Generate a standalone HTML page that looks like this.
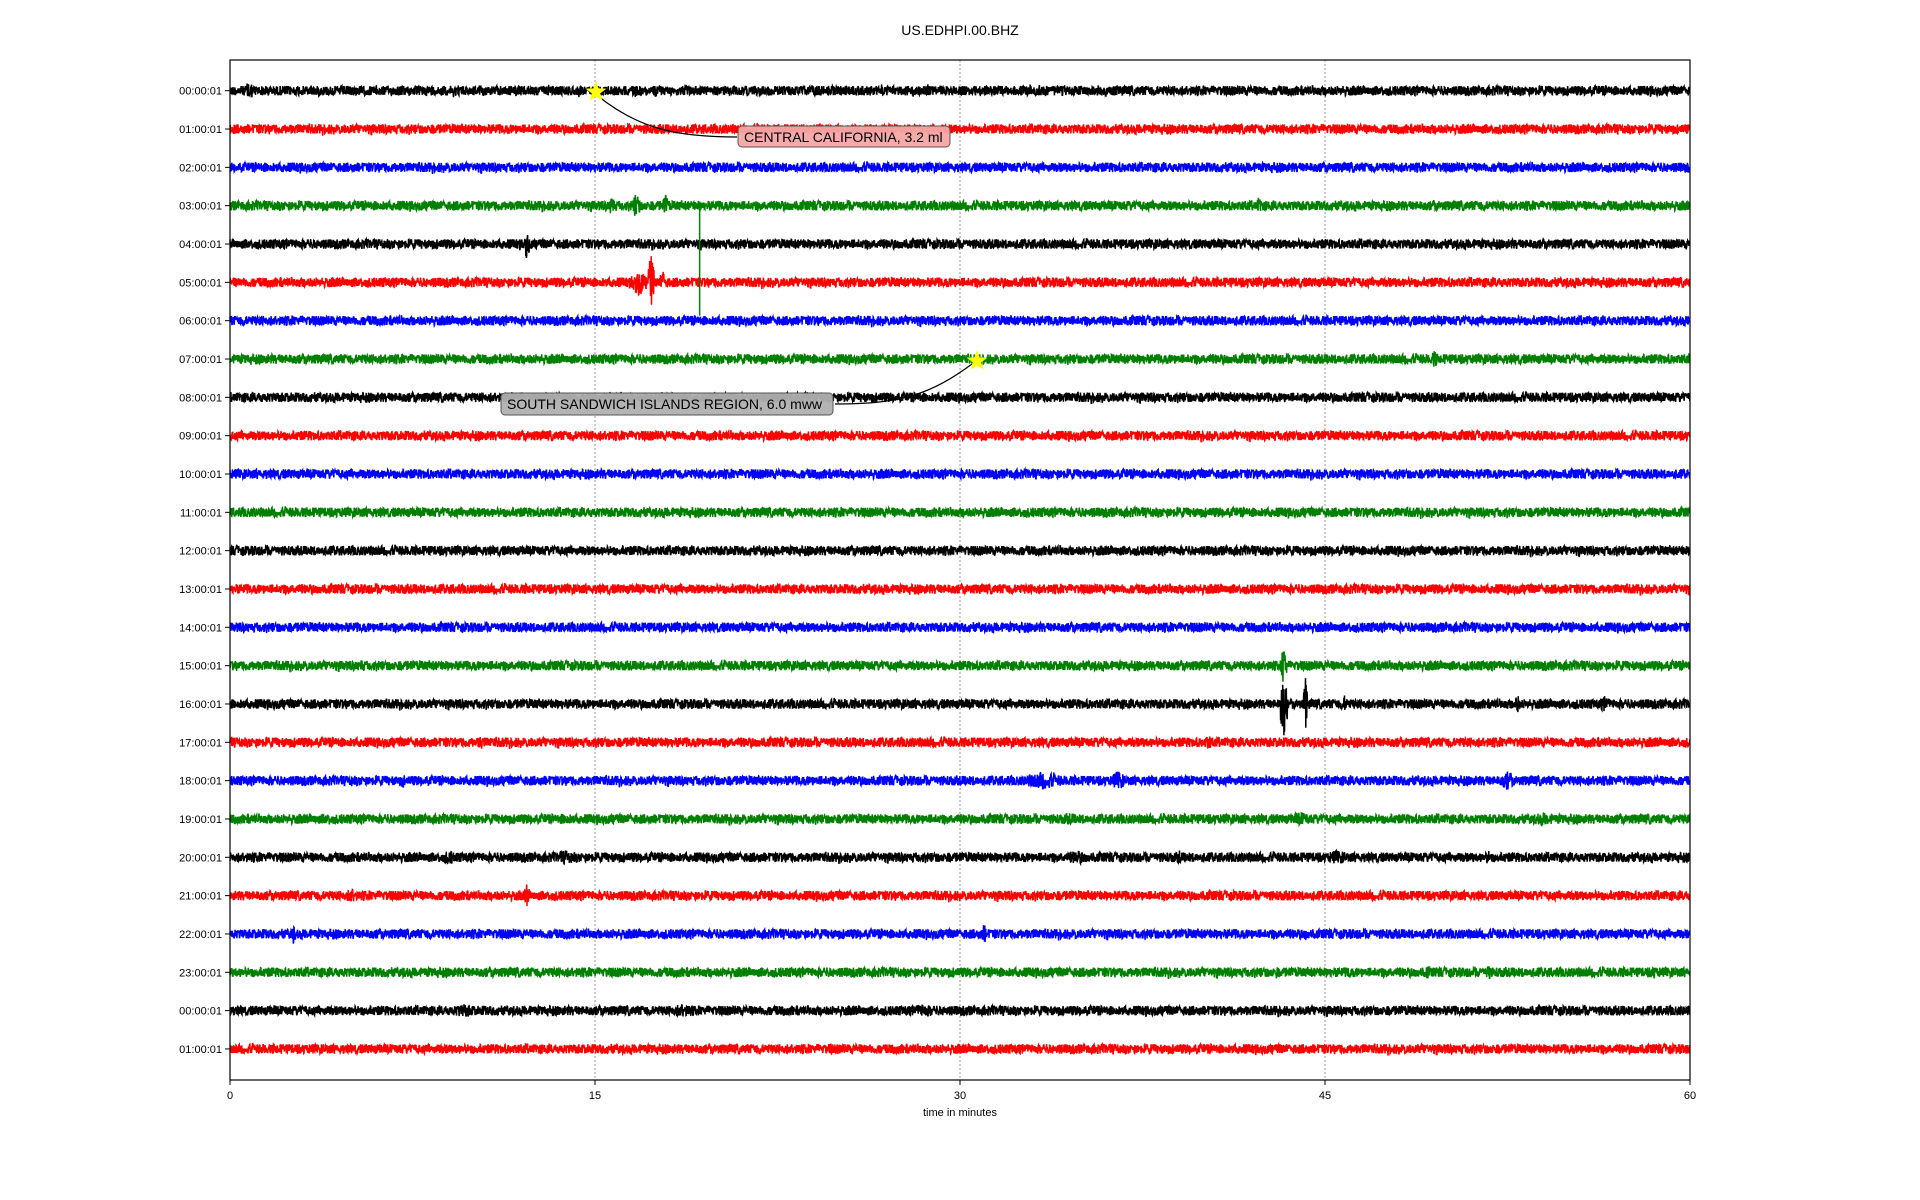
<!DOCTYPE html>
<html><head><meta charset="utf-8"><style>
html,body{margin:0;padding:0;background:#fff;width:1920px;height:1200px;overflow:hidden}
svg{display:block}
text{font-family:"Liberation Sans","DejaVu Sans",sans-serif}
</style></head><body>
<svg id="s" width="1920" height="1200" xmlns="http://www.w3.org/2000/svg">
<text x="960" y="35" font-size="14" text-anchor="middle">US.EDHPI.00.BHZ</text>
<g id="grid"></g>
<g id="traces"></g>
<rect x="230" y="60" width="1460" height="1020" fill="none" stroke="#000" stroke-width="1.2"/>
<g id="ticks" font-size="11"></g>
<text x="960" y="1116" font-size="11" text-anchor="middle">time in minutes</text>
<path d="M598,96 C640,130 680,137 737,137" fill="none" stroke="#000" stroke-width="1.2"/>
<path d="M972,364 C930,395 900,404 835,404" fill="none" stroke="#000" stroke-width="1.2"/>
<rect x="738" y="126" width="212" height="21" rx="4" fill="#f6a5a5" fill-opacity="0.95" stroke="#555" stroke-width="1"/>
<text x="744" y="142" font-size="14">CENTRAL CALIFORNIA, 3.2 ml</text>
<rect x="501" y="393" width="332" height="22" rx="4" fill="#b0b0b0" fill-opacity="0.95" stroke="#555" stroke-width="1"/>
<text x="507" y="409" font-size="14">SOUTH SANDWICH ISLANDS REGION, 6.0 mww</text>
<g id="stars"></g>
</svg>
<script>
var NS="http://www.w3.org/2000/svg";
function el(t,a,p){var e=document.createElementNS(NS,t);for(var k in a)e.setAttribute(k,a[k]);p.appendChild(e);return e;}
var L=230,R=1690,T=60,B=1080,y0=90.7,dy=38.33;
var seed=12345;function rnd(){seed=(seed*1103515245+12345)%2147483648;return seed/2147483648;}
var g=document.getElementById('grid');
[15,30,45].forEach(function(m){var x=L+m*(R-L)/60;el('line',{x1:x,y1:T,x2:x,y2:B,stroke:'#999','stroke-width':1,'stroke-dasharray':'2,2'},g);});
var tk=document.getElementById('ticks');
[0,15,30,45,60].forEach(function(m){var x=L+m*(R-L)/60;el('line',{x1:x,y1:B,x2:x,y2:B+5,stroke:'#000'},tk);var t=el('text',{x:x,y:B+19,'text-anchor':'middle'},tk);t.textContent=m;});
var labs=[];for(var i=0;i<26;i++){var h=i%24;labs.push((h<10?'0':'')+h+':00:01');}
var cols=['#000','#f00','#00f','#008000'];
var ev={0:[[0.8,14,3]],3:[[15.7,12,3],[16.7,14,4],[17.9,12,3],[13.5,6,3],[42.3,10,3],[49.5,6,3]],4:[[12.2,16,3]],5:[[17.3,30,3],[16.8,14,8],[17.8,12,4]],7:[[49.5,10,3]],15:[[5.4,8,3],[43.3,22,3]],16:[[43.3,34,4],[44.2,28,2],[45.8,9,4],[52.9,11,3],[56.5,8,8]],17:[[10.3,9,3],[40.2,8,6],[15.1,6,3]],18:[[7.1,8,3],[33.4,9,25],[36.5,10,8],[52.5,10,8],[5,6,3]],19:[[4,6,20],[13.8,6,20],[34.5,6,20],[44,7,20],[54,7,20]],20:[[9,8,8],[13.8,7,20],[34.8,7,20],[39,8,3],[45.5,7,20],[51.7,8,3]],21:[[5,8,8],[12.2,12,3],[6.5,6,3]],22:[[2.6,10,3],[31,10,4],[44.2,7,3]],23:[[43,7,3],[46,8,3],[49.2,8,3],[51.7,10,3],[58.5,7,8]],24:[[1.8,6,4],[9.6,7,20],[18.6,7,20],[28.5,7,20]],25:[[24.7,6,4]]};
var tr=document.getElementById('traces');
for(var r=0;r<26;r++){
  var yc=y0+r*dy,pts=[],E=ev[r]||[];
  for(var x=L;x<=R;x+=0.3){
    var a=4.8;
    for(var j=0;j<E.length;j++){var ex=L+E[j][0]*(R-L)/60,d=Math.abs(x-ex);if(d<E[j][2]){a=Math.max(a,E[j][1]*(1-d/E[j][2]*0.6));}}
    var v=(rnd()*2-1)*a;if(rnd()<0.01)v*=1.4;
    pts.push(x.toFixed(1)+','+(yc+v).toFixed(1));
  }
  el('polyline',{points:pts.join(' '),fill:'none',stroke:cols[r%4],'stroke-width':1.5},tr);
  el('line',{x1:L-5,y1:yc,x2:L,y2:yc,stroke:'#000'},tk);
  var t=el('text',{x:L-8,y:yc+4,'text-anchor':'end'},tk);t.textContent=labs[r];
}
var gx=L+19.3*(R-L)/60;
el('line',{x1:gx,y1:y0+3*dy,x2:gx,y2:y0+3*dy+110,stroke:'#008000','stroke-width':1.5},tr);
function star(cx,cy,R1,p){var s=[];for(var i=0;i<10;i++){var rr=i%2?R1*0.4:R1,an=-Math.PI/2+i*Math.PI/5;s.push((cx+rr*Math.cos(an)).toFixed(1)+','+(cy+rr*Math.sin(an)).toFixed(1));}el('polygon',{points:s.join(' '),fill:'#ffff00'},p);}
var st=document.getElementById('stars');
star(596,92,11,st);star(977,361,11,st);
</script>
</body></html>
